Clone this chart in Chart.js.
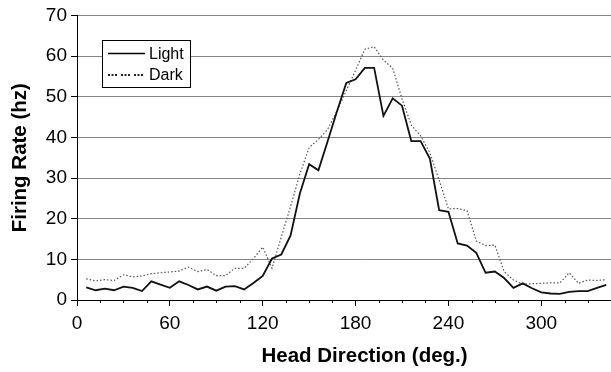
<!DOCTYPE html>
<html><head><meta charset="utf-8">
<script src="https://cdn.jsdelivr.net/npm/chart.js"></script>
<style>
html,body{margin:0;padding:0;overflow:hidden;background:#fff}
#wrap{width:656px;height:372px;position:relative}
</style>
</head><body>
<div id="wrap"><canvas id="c"></canvas></div>
<script>
const directions = [6,12,18,24,30,36,42,48,54,60,66,72,78,84,90,96,102,108,114,120,
  126,132,138,144,150,156,162,168,174,180,186,192,198,204,210,216,222,228,234,240,
  246,252,258,264,270,276,282,288,294,300,306,312,318,324,330,336,342];
const light = [3.1,2.4,2.8,2.4,3.3,3.0,2.2,4.6,3.8,3.0,4.6,3.7,2.6,3.3,2.3,3.3,3.4,2.6,4.2,5.9,
  10.2,11.2,15.9,26.2,33.4,31.9,39.1,46.4,53.4,54.3,57.1,57.1,45.3,49.6,47.8,39.1,39.1,34.8,22.1,21.7,
  13.9,13.4,11.6,6.7,7.0,5.4,3.0,4.1,2.9,1.9,1.6,1.5,2.0,2.2,2.2,3.0,3.7];
const dark = [5.2,4.7,5.0,4.8,6.2,5.7,5.9,6.5,6.7,6.9,7.1,8.1,7.0,7.5,6.0,6.0,7.8,7.8,10.2,13.0,
  7.8,15.5,23.0,31.0,37.5,39.5,42.0,46.5,51.5,56.5,61.7,62.3,59.0,57.0,49.5,43.0,40.4,36.2,29.5,22.4,
  22.5,22.0,14.5,13.4,13.5,7.0,4.9,3.9,4.0,4.1,4.2,4.2,6.7,4.1,4.9,4.8,5.0];
const seriesNames = ['Light', 'Dark'];
const xTicks = [0, 60, 120, 180, 240, 300, 360];
const yTicks = [0, 10, 20, 30, 40, 50, 60, 70];
const xTitle = 'Head Direction (deg.)';
const yTitle = 'Firing Rate (hz)';

const FONT = "'Liberation Sans', Arial, Helvetica, sans-serif";

const minorTicks = {
  id: 'minorTicks',
  afterDraw(chart, args, o) {
    const xs = chart.scales.x, ctx = chart.ctx, y0 = chart.chartArea.bottom;
    ctx.save();
    ctx.strokeStyle = '#000'; ctx.lineWidth = 1;
    ctx.beginPath();
    for (let v = o.step; v <= xs.max; v += o.step) {
      if (v % o.major === 0) continue;
      const px = Math.round(xs.getPixelForValue(v)) + 0.5;
      ctx.moveTo(px, y0); ctx.lineTo(px, y0 + o.length);
    }
    ctx.stroke();
    ctx.restore();
  }
};

const boxLegend = {
  id: 'boxLegend',
  afterDraw(chart, args, o) {
    const ctx = chart.ctx;
    ctx.save();
    ctx.fillStyle = '#fff';
    ctx.fillRect(o.x, o.y, o.w, o.h);
    ctx.strokeStyle = '#000'; ctx.lineWidth = 1;
    ctx.strokeRect(o.x + 0.5, o.y + 0.5, o.w, o.h);
    chart.data.datasets.forEach((ds, i) => {
      const cy = o.y + o.rowTop + i * o.rowGap;
      ctx.beginPath();
      ctx.setLineDash(o.dashes[i]);
      ctx.strokeStyle = o.colors[i];
      ctx.lineWidth = o.widths[i];
      ctx.moveTo(o.x + o.sx0, cy); ctx.lineTo(o.x + o.sx1, cy);
      ctx.stroke();
      ctx.setLineDash([]);
      ctx.fillStyle = '#000';
      ctx.font = o.font;
      ctx.textBaseline = 'middle';
      ctx.textAlign = 'left';
      ctx.fillText(ds.label, o.x + o.tx, cy + 1);
    });
    ctx.restore();
  }
};

new Chart(document.getElementById('c'), {
  type: 'line',
  data: {
    datasets: [
      {
        label: seriesNames[0],
        data: directions.map((d, i) => ({x: d, y: light[i]})),
        borderColor: '#111', borderWidth: 1.8, pointRadius: 0, tension: 0, fill: false
      },
      {
        label: seriesNames[1],
        data: directions.map((d, i) => ({x: d, y: dark[i]})),
        borderColor: '#555', borderWidth: 1.2, borderDash: [1.5, 2], pointRadius: 0, tension: 0, fill: false
      }
    ]
  },
  plugins: [minorTicks, boxLegend],
  options: {
    responsive: true, maintainAspectRatio: false, animation: false,
    layout: {padding: {top: 13, right: 0, bottom: 0, left: 0}},
    plugins: {
      legend: {display: false},
      tooltip: {enabled: false},
      minorTicks: {step: 15, major: 60, length: 3},
      boxLegend: {x: 102, y: 40, w: 88, h: 47, rowTop: 13.5, rowGap: 21.5, sx0: 6, sx1: 43, tx: 47,
        font: "16px 'Liberation Sans', Arial, sans-serif",
        colors: ['#000', '#222'], widths: [1.5, 2], dashes: [[], [2, 1.5, 2, 1.5, 2, 4]]}
    },
    scales: {
      x: {
        type: 'linear', min: 0, max: 371.6,
        afterBuildTicks: s => { s.ticks = xTicks.map(v => ({value: v})); },
        afterFit: s => { s.height = 72; },
        grid: {drawOnChartArea: false, drawTicks: true, tickLength: 6, tickColor: '#000'},
        border: {color: '#000', width: 1},
        ticks: {color: '#000', font: {family: FONT, size: 19}, padding: 6, maxRotation: 0, autoSkip: false},
        title: {display: true, text: xTitle, color: '#000',
          font: {family: FONT, size: 20.5, weight: 'bold'}, padding: {top: 0, bottom: 3}}
      },
      y: {
        min: 0, max: 70,
        afterBuildTicks: s => { s.ticks = yTicks.map(v => ({value: v})); },
        afterFit: s => { s.width = 77; },
        grid: {color: c => (c.tick && c.tick.value === 0) ? 'rgba(0,0,0,0)' : '#858585',
          lineWidth: 1, tickLength: 6, tickColor: '#000'},
        border: {color: '#000', width: 1},
        ticks: {color: '#000', font: {family: FONT, size: 19}, padding: 4},
        title: {display: true, text: yTitle, color: '#000',
          font: {family: FONT, size: 20.5, weight: 'bold'}, padding: {top: 8.5, bottom: 0}}
      }
    }
  }
});
</script>
</body></html>
